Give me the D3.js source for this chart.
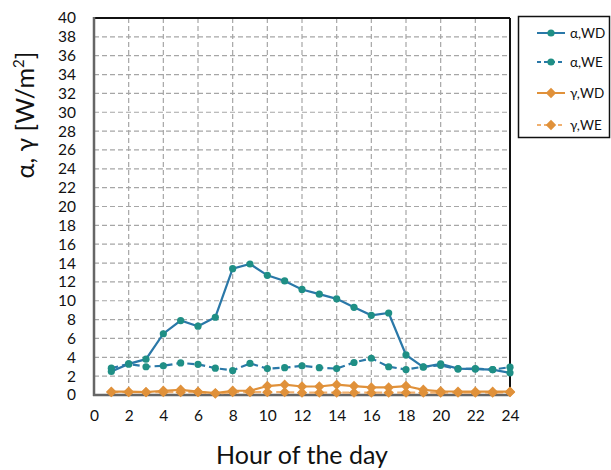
<!DOCTYPE html>
<html>
<head>
<meta charset="utf-8">
<script src="https://cdn.jsdelivr.net/npm/d3@7"></script>
<style>
  html, body { margin: 0; padding: 0; background: #fff; }
  svg { display: block; }
  text { font-family: Lato, "Open Sans", sans-serif; fill: #111; }
</style>
</head>
<body>
<svg id="chart" width="611" height="470"></svg>
<script>
// Hourly values, W/m²
const hours = d3.range(1, 25);
const alphaWD = [2.5, 3.3, 3.8, 6.5, 7.9, 7.3, 8.25, 13.4, 13.9, 12.7, 12.1, 11.2, 10.7, 10.2, 9.3, 8.45, 8.7, 4.25, 2.95, 3.3, 2.8, 2.75, 2.7, 2.35];
const alphaWE = [2.85, 3.3, 3.0, 3.1, 3.4, 3.25, 2.85, 2.6, 3.35, 2.8, 2.9, 3.1, 2.9, 2.8, 3.45, 3.9, 3.0, 2.7, 3.0, 3.15, 2.75, 2.8, 2.7, 2.95];
const gammaWD = [0.35, 0.35, 0.3, 0.45, 0.55, 0.35, 0.2, 0.45, 0.45, 0.95, 1.1, 0.9, 0.9, 1.1, 0.95, 0.8, 0.8, 0.95, 0.55, 0.4, 0.35, 0.35, 0.35, 0.35];
const gammaWE = [0.3, 0.3, 0.3, 0.3, 0.3, 0.3, 0.15, 0.3, 0.3, 0.3, 0.3, 0.25, 0.25, 0.25, 0.25, 0.25, 0.25, 0.25, 0.25, 0.25, 0.25, 0.25, 0.25, 0.3];
const seriesNames = ["α,WD", "α,WE", "γ,WD", "γ,WE"];
const xTicks = d3.range(0, 25, 2);
const yTicks = d3.range(0, 41, 2);

const series = [
  { name: seriesNames[0], values: alphaWD, line: "#2a78a8", marker: "#1f8f85", dash: null, shape: "circle" },
  { name: seriesNames[1], values: alphaWE, line: "#2a78a8", marker: "#1f8f85", dash: "7,4", shape: "circle" },
  { name: seriesNames[2], values: gammaWD, line: "#e0913a", marker: "#e0913a", dash: null, shape: "diamond" },
  { name: seriesNames[3], values: gammaWE, line: "#f0b070", marker: "#e0913a", dash: "7,4", shape: "diamond" }
];

const svg = d3.select("#chart");
const m = { left: 94, top: 18, right: 101, bottom: 75 };
const W = 611 - m.left - m.right;
const H = 470 - m.top - m.bottom;

const x = d3.scaleLinear().domain([0, 24]).range([0, W]);
const y = d3.scaleLinear().domain([0, 40]).range([H, 0]);

const g = svg.append("g").attr("transform", `translate(${m.left},${m.top})`);

// Grid
g.append("g").selectAll("line.h").data(yTicks.filter(v => v > 0 && v < 40)).join("line")
  .attr("x1", 0).attr("x2", W).attr("y1", d => y(d)).attr("y2", d => y(d))
  .attr("stroke", "#a6a6a6").attr("stroke-width", 1.2).attr("stroke-dasharray", "5,3");
g.append("g").selectAll("line.v").data(xTicks.filter(v => v > 0 && v < 24)).join("line")
  .attr("y1", 0).attr("y2", H).attr("x1", d => x(d)).attr("x2", d => x(d))
  .attr("stroke", "#a6a6a6").attr("stroke-width", 1.2).attr("stroke-dasharray", "5,3");

// Axes
const xAxis = g.append("g").attr("transform", `translate(0,${H})`)
  .call(d3.axisBottom(x).tickValues(xTicks).tickSize(0).tickPadding(15));
const yAxis = g.append("g")
  .call(d3.axisLeft(y).tickValues(yTicks).tickSize(0).tickPadding(18));
[xAxis, yAxis].forEach(a => {
  a.select(".domain").remove();
  a.selectAll("text").attr("font-size", 15.5).attr("fill", "#111")
    .attr("font-family", "Lato, sans-serif");
});

// Frame
g.append("line").attr("x1", 0).attr("x2", W).attr("y1", 0).attr("y2", 0).attr("stroke", "#111").attr("stroke-width", 2);
g.append("line").attr("x1", W).attr("x2", W).attr("y1", 0).attr("y2", H).attr("stroke", "#111").attr("stroke-width", 2);
g.append("line").attr("x1", 0).attr("x2", 0).attr("y1", -1).attr("y2", H + 1).attr("stroke", "#666").attr("stroke-width", 2.5);
g.append("line").attr("x1", -1).attr("x2", W + 1).attr("y1", H).attr("y2", H).attr("stroke", "#666").attr("stroke-width", 2.5);

const line = d3.line().x((d, i) => x(hours[i])).y(d => y(d));
const diamondPath = "M0,-5.2L5.2,0L0,5.2L-5.2,0Z";

function drawMarkers(sel, s, pts) {
  if (s.shape === "circle") {
    sel.selectAll("circle").data(pts).join("circle")
      .attr("cx", d => d[0]).attr("cy", d => d[1]).attr("r", 3.6).attr("fill", s.marker);
  } else {
    sel.selectAll("path").data(pts).join("path")
      .attr("d", diamondPath).attr("transform", d => `translate(${d[0]},${d[1]})`).attr("fill", s.marker);
  }
}

// Draw gamma first so alpha sits on top, weekend under weekday
[series[3], series[2], series[1], series[0]].forEach(s => {
  g.append("path").datum(s.values).attr("d", line)
    .attr("fill", "none").attr("stroke", s.line).attr("stroke-width", 2.2)
    .attr("stroke-dasharray", s.dash);
  drawMarkers(g.append("g"), s, s.values.map((v, i) => [x(hours[i]), y(v)]));
});

// Axis titles
svg.append("text").attr("x", m.left + W / 2).attr("y", 464).attr("text-anchor", "middle")
  .attr("font-size", 25).text("Hour of the day");
const yt = svg.append("text").attr("transform", "translate(34,115) rotate(-90)")
  .attr("text-anchor", "middle").attr("font-size", 25);
yt.append("tspan").text("α, γ [W/m");
yt.append("tspan").attr("font-size", 15).attr("dy", -10).text("2");
yt.append("tspan").attr("dy", 10).text("]");

// Legend
const lg = svg.append("g");
lg.append("rect").attr("x", 518.5).attr("y", 16.5).attr("width", 91).attr("height", 121)
  .attr("fill", "#fff").attr("stroke", "#111").attr("stroke-width", 1.5);
const legY = [33, 62, 93, 125];
series.forEach((s, i) => {
  const row = lg.append("g").attr("transform", `translate(0,${legY[i]})`);
  row.append("line").attr("x1", 537).attr("x2", 565).attr("y1", 0).attr("y2", 0)
    .attr("stroke", s.line).attr("stroke-width", 2).attr("stroke-dasharray", s.dash ? "4,3" : null);
  drawMarkers(row.append("g"), s, [[551, 0]]);
  row.append("text").attr("x", 570).attr("y", 4.5).attr("font-size", 13.5).text(s.name);
});
</script>
</body>
</html>
